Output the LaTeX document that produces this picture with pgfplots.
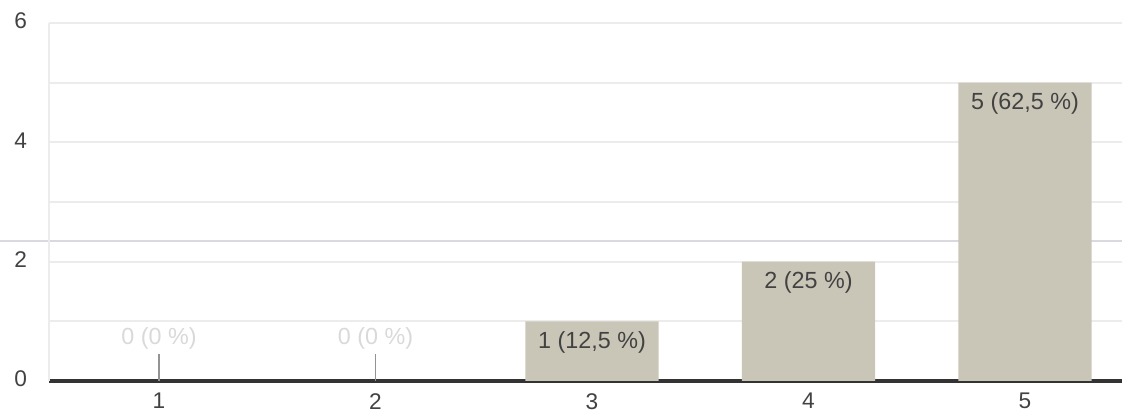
\documentclass[border=0pt]{standalone}
\usepackage{pgfplots}
\pgfplotsset{compat=1.18}
\usepackage{fontspec}
\setmainfont{Liberation Sans}
\definecolor{barc}{RGB}{201,198,184}
\definecolor{txt}{RGB}{66,66,66}
\definecolor{gridc}{RGB}{236,236,236}
\definecolor{sep}{RGB}{218,218,222}
\begin{document}
\begin{tikzpicture}[x=0.75pt,y=0.75pt]
\useasboundingbox (-49,-33) rectangle (1073,381);
\draw[sep, line width=2.2pt] (-49,140) -- (1073,140);
\begin{axis}[
  at={(0,0)}, anchor=south west,
  scale only axis,
  width=804.75pt, height=268.5pt,
  xmin=0.492, xmax=5.448,
  ymin=0, ymax=6,
  clip=false,
  axis x line*=bottom, axis y line*=left,
  x axis line style={draw=black!80, line width=3.2pt, -},
  y axis line style={draw=gridc, line width=1.5pt, -},
  xtick={1,2,3,4,5},
  ytick={0,2,4,6},
  minor ytick={1,3,5},
  ymajorgrids, yminorgrids,
  major grid style={draw=gridc, line width=1.5pt},
  minor grid style={draw=gridc, line width=1.5pt},
  major tick length=0pt, minor tick length=0pt,
  /pgf/number format/assume math mode=true,
  tick label style={font=\fontsize{17}{19}\selectfont, text=txt},
  yticklabel style={xshift=-13pt, yshift=1.5pt},
  xticklabel style={yshift=-8.5pt, inner sep=0.5pt, text depth=0pt},
  every axis plot/.append style={line width=0pt},
]
\addplot[ybar, bar width=100pt, fill=barc, draw=none,
  point meta=explicit symbolic,
  nodes near coords,
  nodes near coords style={anchor=north, yshift=-4pt, text=txt, font=\fontsize{17.5}{19}\selectfont}]
  coordinates {(3,1) [{1 (12,5 \%)}] (4,2) [{2 (25 \%)}] (5,5) [{5 (62,5 \%)}]};
\addplot[ycomb, draw=gray!85, line width=1pt, mark=none,
  point meta=explicit symbolic,
  nodes near coords,
  nodes near coords style={anchor=south, yshift=0pt, text=gray!30, font=\fontsize{17.5}{19}\selectfont}]
  coordinates {(1,0.45) [{0 (0 \%)}] (2,0.45) [{0 (0 \%)}]};
\end{axis}
\end{tikzpicture}
\end{document}
